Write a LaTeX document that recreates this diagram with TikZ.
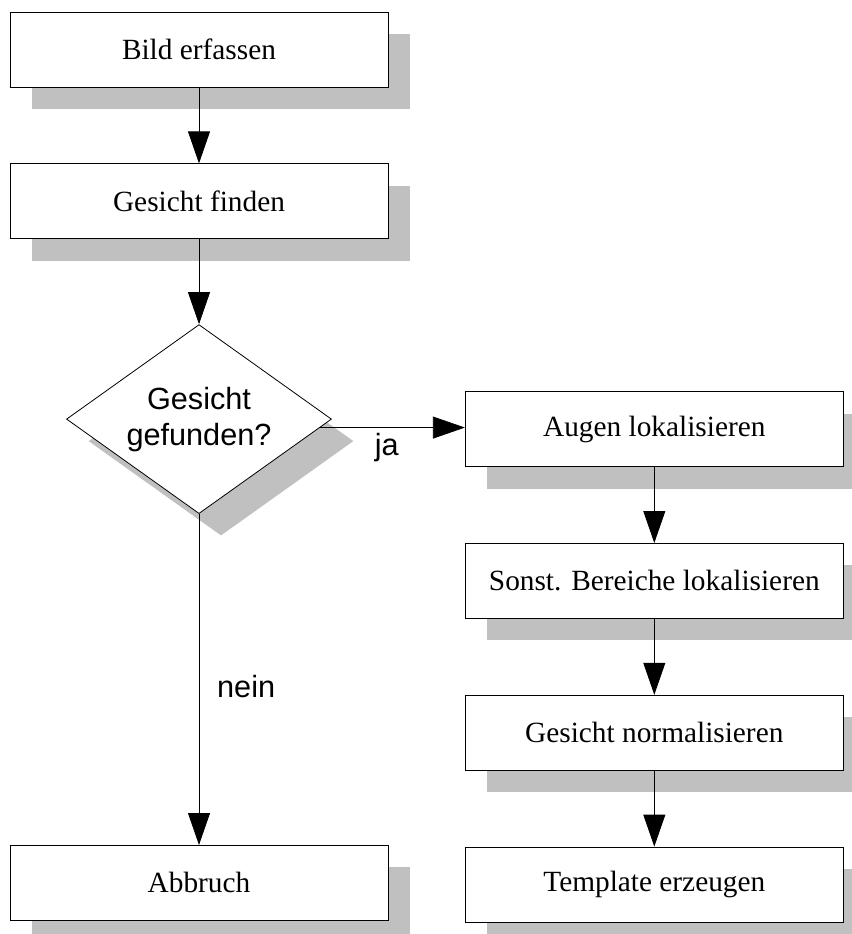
\documentclass[tikz,border=0pt]{standalone}
\usepackage{fontspec}
\setmainfont{Liberation Serif}
\setsansfont{Liberation Sans}
\usetikzlibrary{shapes, arrows.meta, positioning, shadows}
\definecolor{shadowgray}{RGB}{192,192,192}

\begin{document}
\begin{tikzpicture}[node distance=57pt and 99.75pt,
    boxshadow/.style={drop shadow={shadow xshift=16.5pt, shadow yshift=-16.5pt, fill=shadowgray, opacity=1}},
    box/.style={draw, line width=0.6pt, fill=white, boxshadow, minimum width=283.5pt, minimum height=56.25pt, inner sep=0pt, font=\fontsize{22}{26}\selectfont},
    decision/.style={diamond, draw, line width=0.6pt, fill=white, boxshadow, aspect=1.4, minimum width=198.75pt, minimum height=141.75pt, inner sep=0pt, align=center, font=\sffamily\fontsize{23}{27}\selectfont},
    arr/.style={line width=0.6pt, -{Triangle[length=24pt,width=16.5pt]}},
    lbl/.style={font=\sffamily\fontsize{23}{27}\selectfont}]
	\useasboundingbox (0,0) rectangle (639pt,-700.5pt);
	% linke Spalte
	\node[box] (bild) at (149.25pt,-37.125pt) {Bild erfassen};
	\node[box, below=of bild] (finden) {Gesicht finden};
	\node[decision, below=63.75pt of finden] (gefunden) {Gesicht\\gefunden?};
	\node[box, below=248.25pt of gefunden] (abbruch) {Abbruch};
	% rechte Spalte
	\node[box, right=of gefunden, yshift=-7.5pt] (augen) {Augen lokalisieren};
	\node[box, below=of augen] (bereiche) {Sonst. Bereiche lokalisieren};
	\node[box, below=of bereiche] (normal) {Gesicht normalisieren};
	\node[box, below=of normal] (template) {Template erzeugen};
	% Verbindungen
	\foreach \from/\to in {bild/finden,finden/gefunden,augen/bereiche,bereiche/normal,normal/template}
		\draw[arr] (\from) -- (\to);
	\draw[arr] (gefunden.-4.8) -- (gefunden.-4.8 -| augen.west) node[lbl, pos=0.46, below=1pt] {ja};
	\draw[arr] (gefunden) -- (abbruch) node[lbl, pos=0.52, right=10pt] {nein};
\end{tikzpicture}
\end{document}
